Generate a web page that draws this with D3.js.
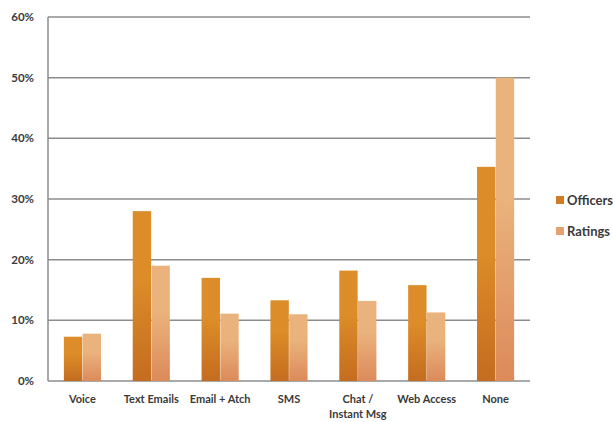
<!DOCTYPE html>
<html>
<head>
<meta charset="utf-8">
<script src="https://cdn.jsdelivr.net/npm/d3@7"></script>
<style>
  body { margin: 0; background: #fff; }
  text { font-family: Lato, "Open Sans", sans-serif; }
</style>
</head>
<body>
<svg id="chart"></svg>
<script>
const categories = ["Voice", "Text Emails", "Email + Atch", "SMS", "Chat /\nInstant Msg", "Web Access", "None"];
const seriesNames = ["Officers", "Ratings"];
const officers = [7.3, 28.0, 17.0, 13.3, 18.2, 15.8, 35.3];
const ratings = [7.8, 19.0, 11.1, 11.0, 13.2, 11.3, 50.0];
const yTicks = [0, 10, 20, 30, 40, 50, 60];

const width = 613, height = 422;
const marginTop = 17, marginLeft = 48, marginRight = 83, marginBottom = 41;

const svg = d3.select("#chart")
    .attr("width", width)
    .attr("height", height)
    .attr("viewBox", [0, 0, width, height]);

const defs = svg.append("defs");
const grads = [
  { id: "gOff", top: "#dc8c28", bottom: "#c46c20" },
  { id: "gRat", top: "#eab27c", bottom: "#dc8a5a" }
];
grads.forEach(g => {
  const lg = defs.append("linearGradient").attr("id", g.id)
      .attr("x1", 0).attr("y1", 0).attr("x2", 0).attr("y2", 1);
  lg.append("stop").attr("offset", "40%").attr("stop-color", g.top);
  lg.append("stop").attr("offset", "100%").attr("stop-color", g.bottom);
});
const fills = ["url(#gOff)", "url(#gRat)"];
const legendColors = ["#cf7c22", "#e5a070"];

const x = d3.scaleBand(categories, [marginLeft, width - marginRight])
    .paddingInner(0.45).paddingOuter(0.225);
const xs = d3.scaleBand(seriesNames, [0, x.bandwidth()]).padding(0.02);
const y = d3.scaleLinear([0, 60], [height - marginBottom, marginTop]);

// gridlines
svg.append("g")
  .selectAll("line")
  .data(yTicks)
  .join("line")
    .attr("x1", marginLeft)
    .attr("x2", width - marginRight)
    .attr("y1", d => y(d))
    .attr("y2", d => y(d))
    .attr("stroke", "#8c8c8c")
    .attr("stroke-width", 1.5);

// left axis line
svg.append("line")
    .attr("x1", marginLeft).attr("x2", marginLeft)
    .attr("y1", y(60)).attr("y2", y(0))
    .attr("stroke", "#8c8c8c")
    .attr("stroke-width", 1.5);

// y labels
svg.append("g")
  .selectAll("text")
  .data(yTicks)
  .join("text")
    .attr("x", 34)
    .attr("y", d => y(d))
    .attr("dy", "0.35em")
    .attr("text-anchor", "end")
    .attr("font-size", 11.5)
    .attr("font-weight", 700)
    .attr("fill", "#3a3a3a")
    .text(d => d + "%");

// bars
const data = categories.map((c, i) => ({ cat: c, vals: [officers[i], ratings[i]] }));
svg.append("g")
  .selectAll("g")
  .data(data)
  .join("g")
    .attr("transform", d => `translate(${x(d.cat)},0)`)
  .selectAll("rect")
  .data(d => d.vals.map((v, j) => ({ key: seriesNames[j], v, j })))
  .join("rect")
    .attr("x", d => xs(d.key))
    .attr("width", xs.bandwidth())
    .attr("y", d => y(d.v))
    .attr("height", d => y(0) - y(d.v))
    .attr("fill", d => fills[d.j]);

// x labels
const xl = svg.append("g")
  .selectAll("text")
  .data(categories)
  .join("text")
    .attr("x", d => x(d) + x.bandwidth() / 2)
    .attr("y", y(0) + 22)
    .attr("text-anchor", "middle")
    .attr("font-size", 11)
    .attr("font-weight", 700)
    .attr("fill", "#3a3a3a");
xl.selectAll("tspan")
  .data(d => d.split("\n"))
  .join("tspan")
    .attr("x", function() { return d3.select(this.parentNode).attr("x"); })
    .attr("dy", (d, i) => i === 0 ? 0 : 15)
    .text(d => d);

// legend
const legend = svg.append("g")
  .selectAll("g")
  .data(seriesNames)
  .join("g")
    .attr("transform", (d, i) => `translate(556,${200 + i * 31})`);
legend.append("rect")
    .attr("x", 0).attr("y", -4)
    .attr("width", 8).attr("height", 8)
    .attr("fill", (d, i) => legendColors[i]);
legend.append("text")
    .attr("x", 11)
    .attr("dy", "0.35em")
    .attr("font-size", 13)
    .attr("font-weight", 700)
    .attr("fill", "#3a3a3a")
    .text(d => d);
</script>
</body>
</html>
